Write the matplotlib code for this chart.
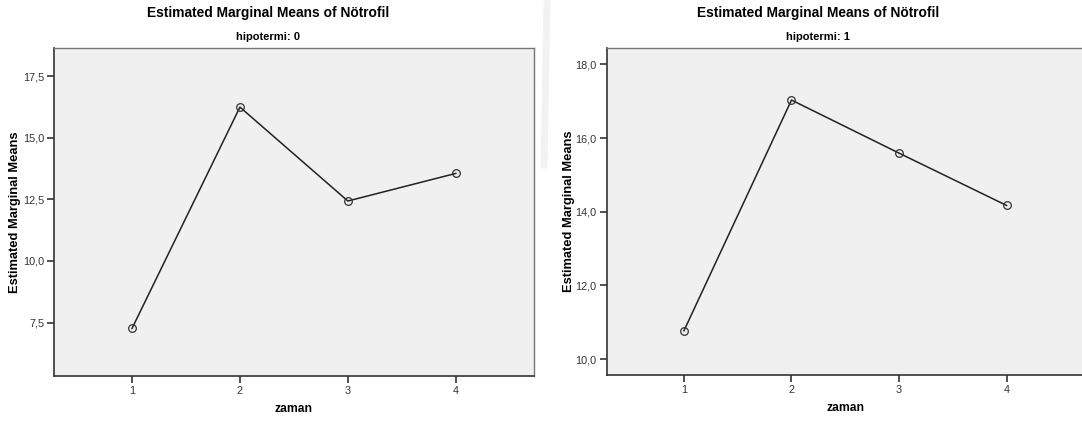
import matplotlib.pyplot as plt
from matplotlib.ticker import FuncFormatter
from matplotlib.lines import Line2D

plt.rcParams['font.family'] = ['Liberation Sans', 'DejaVu Sans']

zaman = [1, 2, 3, 4]
means_h0 = [7.26, 16.24, 12.43, 13.55]
means_h1 = [10.77, 17.03, 15.59, 14.17]
yticks_h0 = [7.5, 10.0, 12.5, 15.0, 17.5]
yticks_h1 = [10.0, 12.0, 14.0, 16.0, 18.0]

W, H = 1082, 424
fig = plt.figure(figsize=(W / 100, H / 100), dpi=100)

# faint watermark band between the two panels
fig.add_artist(Line2D([547 / W, 544 / W], [1.0, 1 - 165 / H], color='#f2f2f2',
                      linewidth=5, transform=fig.transFigure, zorder=0))

comma = FuncFormatter(lambda v, p: ('%.1f' % v).replace('.', ','))


def panel(rect, vals, yticks, ylim, sub, cx, ylab_x):
    ax = fig.add_axes(rect)
    ax.set_facecolor('#f0f0f0')
    ax.plot(zaman, vals, color='#222222', linewidth=1.1, marker='o',
            markersize=5.5, markerfacecolor='none', markeredgecolor='#333333',
            markeredgewidth=0.9)
    ax.set_xlim(0.28, 4.72)
    ax.set_ylim(*ylim)
    ax.set_xticks(zaman)
    ax.set_yticks(yticks)
    ax.yaxis.set_major_formatter(comma)
    ax.tick_params(axis='both', direction='out', length=5, width=1.2,
                   labelsize=7.8, labelcolor='#333333', color='#333333', pad=2)
    for s in ['left', 'bottom']:
        ax.spines[s].set_color('#333333')
        ax.spines[s].set_linewidth(1.2)
    for s in ['top', 'right']:
        ax.spines[s].set_color('#777777')
        ax.spines[s].set_linewidth(1.0)
    fig.text(cx / W, 1 - 13.5 / H, 'Estimated Marginal Means of Nötrofil',
             ha='center', va='center', fontsize=9.9, fontweight='bold')
    fig.text(cx / W, 1 - 37 / H, sub, ha='center', va='center',
             fontsize=8, fontweight='bold')
    ax.set_xlabel('zaman', fontsize=8.7, fontweight='bold', va='center')
    ax.xaxis.set_label_coords(0.5, -33 / rect[3] / H)
    ax.set_ylabel('Estimated Marginal Means', fontsize=9.3, fontweight='bold',
                  va='center')
    ax.yaxis.set_label_coords(ylab_x, 0.5)
    return ax


panel([54.3 / W, 48 / H, 479.2 / W, 328.3 / H], means_h0, yticks_h0,
      (5.33, 18.65), 'hipotermi: 0', 268, -0.083)
panel([606.5 / W, 49 / H, 477.5 / W, 327.3 / H], means_h1, yticks_h1,
      (9.57, 18.45), 'hipotermi: 1', 818, -0.079)

fig.savefig('out.png', dpi=100)
